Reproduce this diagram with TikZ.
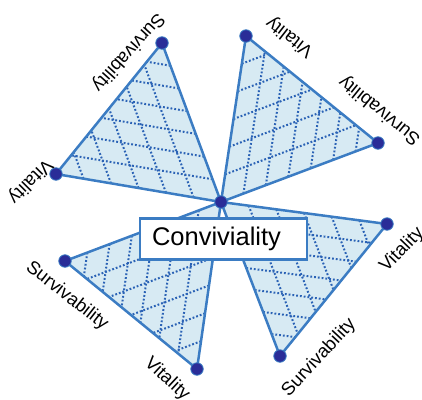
\documentclass[tikz,border=0pt]{standalone}
\usepackage{fontspec}
\setmainfont{Liberation Sans}
\usetikzlibrary{calc}
\definecolor{petalblue}{HTML}{3B7CC3}
\definecolor{petalsoft}{HTML}{D7EAF3}
\definecolor{hatchblue}{HTML}{2A62B5}
\definecolor{knotnavy}{HTML}{2A2D98}
\tikzset{
  petal/.style = {draw=petalblue, line width=2.5pt, line join=round},
  hatch/.style = {draw=hatchblue, line width=2pt, dash pattern=on 1.8pt off 2pt},
  knot/.style  = {circle, fill=knotnavy, draw=petalblue, line width=0.8pt,
                  minimum size=12.5pt, inner sep=0pt},
  tag/.style   = {font=\fontsize{18.5}{20}\selectfont, inner sep=0pt},
  hub/.style   = {draw=petalblue, line width=2.6pt, fill=white,
                  inner xsep=12pt, inner ysep=0pt, text width=143pt, align=left,
                  minimum height=41pt, font=\fontsize{25.5}{28}\selectfont},
}

\begin{document}
\begin{tikzpicture}[x=1pt, y=-1pt]
  \useasboundingbox (0,0) rectangle (422,399);
  \coordinate (c)  at (221,202);
  \coordinate (s1) at (162,43);  \coordinate (v1) at (56,174);
  \coordinate (s2) at (378,143); \coordinate (v2) at (246,36);
  \coordinate (s3) at (65,261);  \coordinate (v3) at (197,369);
  \coordinate (s4) at (280,356); \coordinate (v4) at (387,224);

  % four hatched petals round the hub
  \foreach \ps/\pv in {s1/v1, s2/v2, s3/v3, s4/v4}{
    \fill[petalsoft] (c) -- (\ps) -- (\pv) -- cycle;
    \foreach \k in {1,...,6}
      \draw[hatch] ($(c)!\k/7!(\ps)$) -- ($(\pv)!\k/7!(\ps)$);
    \foreach \k in {1,...,5}
      \draw[hatch] ($(c)!\k/6!(\pv)$) -- ($(\ps)!\k/6!(\pv)$);
    \draw[petal] (c) -- (\ps) -- (\pv) -- cycle;
  }

  \foreach \p in {c, s1, v1, s2, v2, s3, v3, s4, v4}
    \node[knot] (k\p) at (\p) {};

  \node[hub] (conv) at (223.5,239) {Conviviality};

  \node[tag, rotate=-132] (t1s) at (128,52)  {Survivability};
  \node[tag, rotate=-135] (t1v) at (30,181)  {Vitality};
  \node[tag, rotate=142]  (t2v) at (290,37)  {Vitality};
  \node[tag, rotate=141]  (t2s) at (380,110) {Survivability};
  \node[tag, rotate=-38]  (t3s) at (67,296)  {Survivability};
  \node[tag, rotate=-43]  (t3v) at (167,379) {Vitality};
  \node[tag, rotate=46]   (t4v) at (402,250) {Vitality};
  \node[tag, rotate=47]   (t4s) at (319,358) {Survivability};
\end{tikzpicture}
\end{document}
